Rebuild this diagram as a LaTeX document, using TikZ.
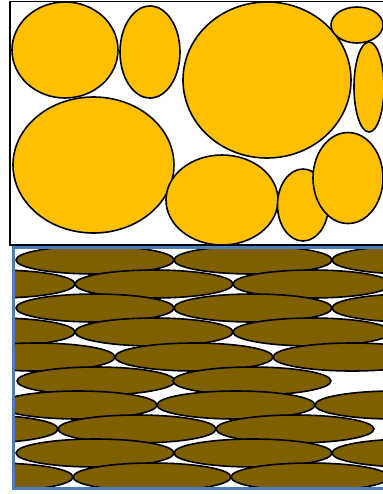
\documentclass[tikz,border=0pt]{standalone}
\usepackage[dvipsnames,svgnames,x11names]{xcolor}
\definecolor{groc}{HTML}{FFC000}
\definecolor{oliva}{HTML}{7F6000}
\definecolor{vora}{HTML}{4A7EBB}

\begin{document}
\begin{tikzpicture}[x=0.5pt, y=-0.5pt,
    gra/.style={fill=groc, draw=black, line width=0.8pt},
    fibra/.style={fill=oliva, draw=black, line width=0.8pt}]

    \useasboundingbox (0,0) rectangle (383,494);
    \clip (0,0) rectangle (383,494);

    % Capa de fibres
    \begin{scope}
        \clip (13,247) rectangle (400,488);
        \foreach \yc/\xs in {260/{95,253,411}, 284/{-4,154,312,470},
                             308/{95,253,411}, 332/{-4,154,312,470},
                             357/{36,194,352}, 381/{96,252},
                             405/{78,236,394}, 429/{-21,137,295},
                             453/{95,253,411}, 477/{-6,152,310,468}}
            \foreach \xc in \xs
                \draw[fibra] (\xc,\yc) ellipse [x radius=79, y radius=14];
    \end{scope}
    \draw[
        vora,
        line width=1.5pt
    ] (13,247) rectangle (400,488);

    % Capa de grans
    \draw[
        black,
        line width=0.8pt,
        fill=white
    ] (10,1.5) rectangle (400,245);

    \draw[gra] (65,50) ellipse [x radius=53, y radius=48];
    \draw[gra] (150,52) ellipse [x radius=30, y radius=46];
    \draw[gra] (267,80) ellipse [x radius=84, y radius=78];
    \draw[gra] (93.5,165) ellipse [x radius=80.5, y radius=68];
    \draw[gra] (357,25) ellipse [x radius=26, y radius=18];
    \draw[gra] (369,87) ellipse [x radius=15, y radius=45];
    \draw[gra] (222,200) ellipse [x radius=56, y radius=45];
    \draw[gra] (303,205) ellipse [x radius=25.5, y radius=36];
    \draw[gra] (348,178) ellipse [x radius=35, y radius=45.5];

\end{tikzpicture}
\end{document}
